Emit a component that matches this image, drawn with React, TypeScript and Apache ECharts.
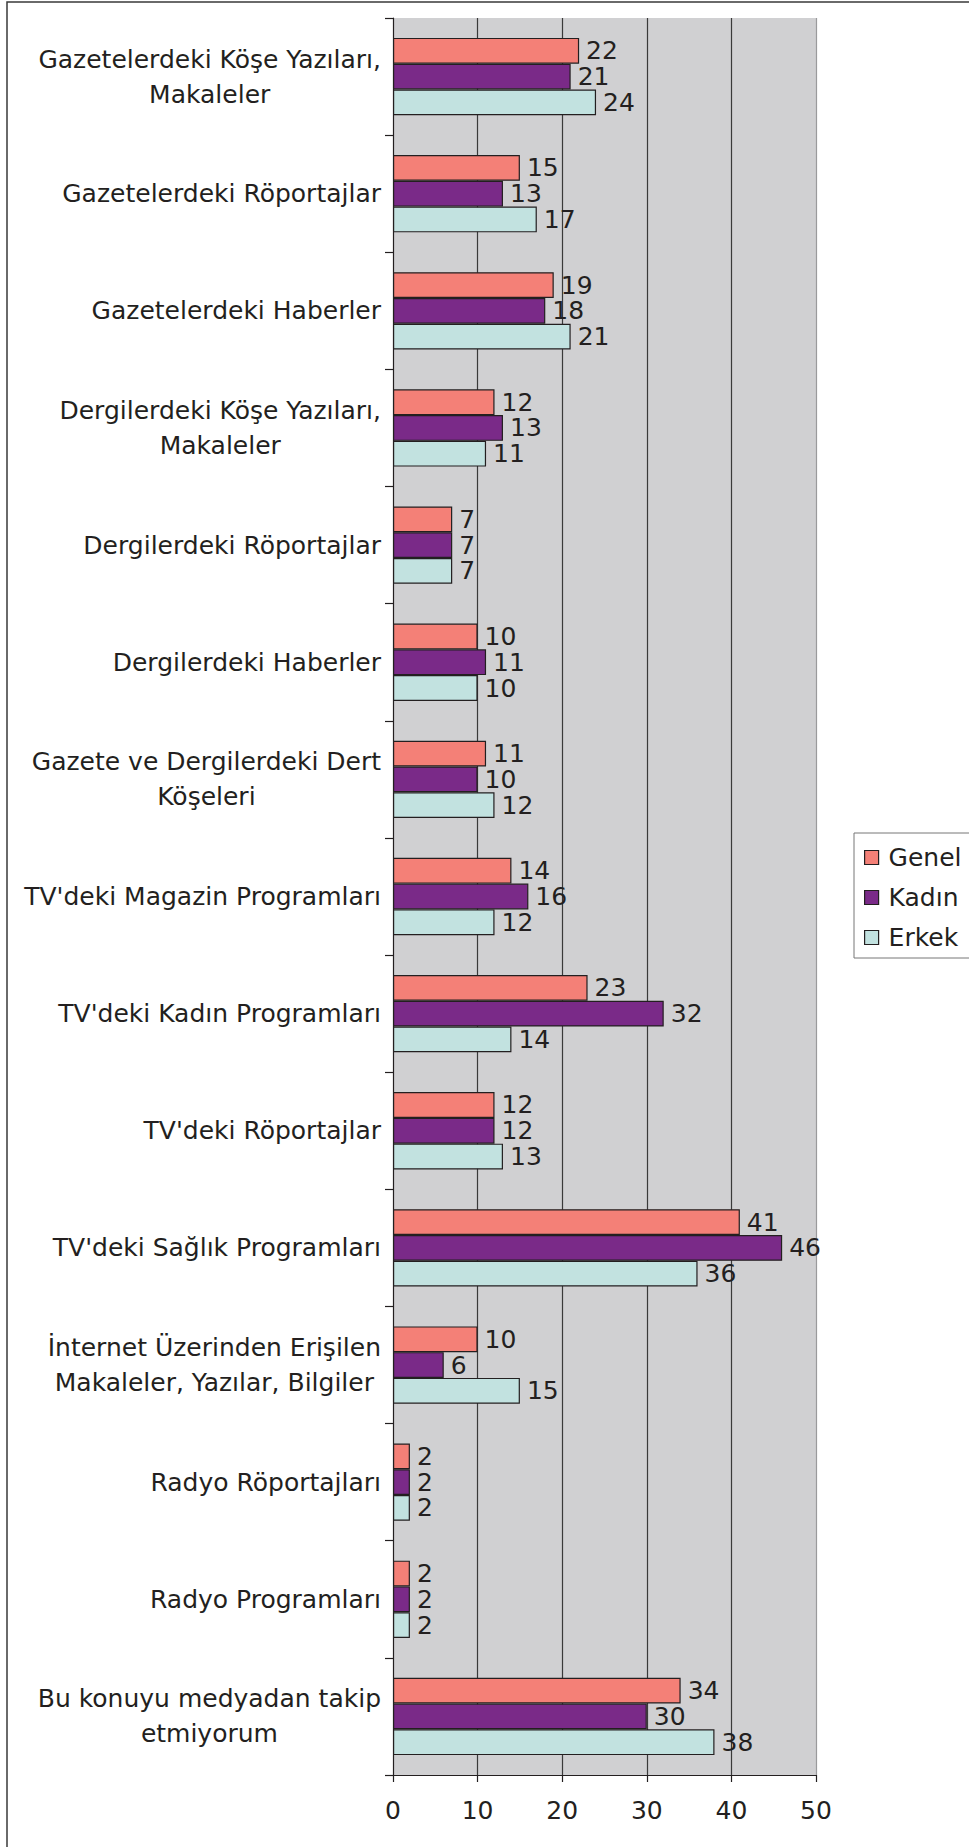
import React, { useEffect, useRef } from "react";
import * as echarts from "echarts";

const categories: string[] = [
  "Gazetelerdeki Köşe Yazıları,\nMakaleler",
  "Gazetelerdeki Röportajlar",
  "Gazetelerdeki Haberler",
  "Dergilerdeki Köşe Yazıları,\nMakaleler",
  "Dergilerdeki Röportajlar",
  "Dergilerdeki Haberler",
  "Gazete ve Dergilerdeki Dert\nKöşeleri",
  "TV'deki Magazin Programları",
  "TV'deki Kadın Programları",
  "TV'deki Röportajlar",
  "TV'deki Sağlık Programları",
  "İnternet Üzerinden Erişilen\nMakaleler, Yazılar, Bilgiler",
  "Radyo Röportajları",
  "Radyo Programları",
  "Bu konuyu medyadan takip\netmiyorum",
];

const genel: number[] = [22, 15, 19, 12, 7, 10, 11, 14, 23, 12, 41, 10, 2, 2, 34];
const kadin: number[] = [21, 13, 18, 13, 7, 11, 10, 16, 32, 12, 46, 6, 2, 2, 30];
const erkek: number[] = [24, 17, 21, 11, 7, 10, 12, 12, 14, 13, 36, 15, 2, 2, 38];

const seriesNames: string[] = ["Genel", "Kadın", "Erkek"];
const seriesColors: string[] = ["#F48077", "#7A2A88", "#C2E2E0"];
const xTicks: number[] = [0, 10, 20, 30, 40, 50];

const FONT = "DejaVu Sans";
const TEXT = "#231F20";
const FS = 25;

export default function App() {
  const ref = useRef<HTMLDivElement>(null);
  useEffect(() => {
    if (!ref.current) return;
    const chart = echarts.init(ref.current, null, { renderer: "svg" });
    const values = [genel, kadin, erkek];
    chart.setOption({
      animation: false,
      backgroundColor: "#ffffff",
      textStyle: { fontFamily: FONT },
      graphic: [
        {
          type: "rect",
          shape: { x: 7, y: 2, width: 1100, height: 2000 },
          style: { fill: "none", stroke: "#3a3a3a", lineWidth: 1.5 },
          silent: true,
          z: 100,
        },
      ],
      legend: {
        orient: "vertical",
        left: 854,
        top: 833,
        data: seriesNames,
        icon: "rect",
        itemWidth: 14,
        itemHeight: 14,
        itemGap: 15,
        padding: [12, 80, 8, 10],
        borderColor: "#777777",
        borderWidth: 1,
        backgroundColor: "#ffffff",
        itemStyle: { borderColor: TEXT, borderWidth: 1.2 },
        textStyle: { fontFamily: FONT, fontSize: FS, color: TEXT, padding: [0, 0, 0, 5] },
      },
      grid: {
        left: 393,
        right: 153,
        top: 18,
        bottom: 72,
        show: true,
        backgroundColor: "#D0D0D2",
        borderColor: "#D0D0D2",
        borderWidth: 0,
      },
      xAxis: {
        type: "value",
        min: xTicks[0],
        max: xTicks[xTicks.length - 1],
        interval: 10,
        axisLine: { show: true, lineStyle: { color: TEXT, width: 1.2 } },
        axisTick: { show: true, length: 7, lineStyle: { color: TEXT, width: 1.2 } },
        axisLabel: { fontFamily: FONT, fontSize: FS, color: TEXT, margin: 23 },
        splitLine: {
          show: true,
          showMinLine: false,
          showMaxLine: true,
          lineStyle: { color: ["#3a3a3a", "#3a3a3a", "#3a3a3a", "#3a3a3a", "#9a9a9c"], width: 1.2 },
        },
      },
      yAxis: {
        type: "category",
        inverse: true,
        data: categories,
        axisLine: { show: true, lineStyle: { color: TEXT, width: 1.2 } },
        axisTick: { show: true, length: 8, lineStyle: { color: TEXT, width: 1.2 } },
        axisLabel: {
          fontFamily: FONT,
          fontSize: FS,
          color: TEXT,
          margin: 12,
          formatter: (v: string) =>
            v
              .split("\n")
              .map((l) => "{c|" + l + "}")
              .join("\n"),
          rich: {
            c: { align: "center", fontFamily: FONT, fontSize: FS, color: TEXT, lineHeight: 35 },
          },
        },
        splitLine: { show: false },
      },
      series: seriesNames.map((name, i) => ({
        name,
        type: "bar",
        data: values[i],
        barGap: "0%",
        barCategoryGap: "34%",
        itemStyle: { color: seriesColors[i], borderColor: TEXT, borderWidth: 1.2 },
        label: {
          show: true,
          position: "right",
          distance: 7,
          fontFamily: FONT,
          fontSize: FS,
          color: TEXT,
        },
      })),
    });
    return () => chart.dispose();
  }, []);
  return (
    <div
      ref={ref}
      style={{ position: "absolute", left: 0, top: 0, width: 969, height: 1847 }}
    />
  );
}
